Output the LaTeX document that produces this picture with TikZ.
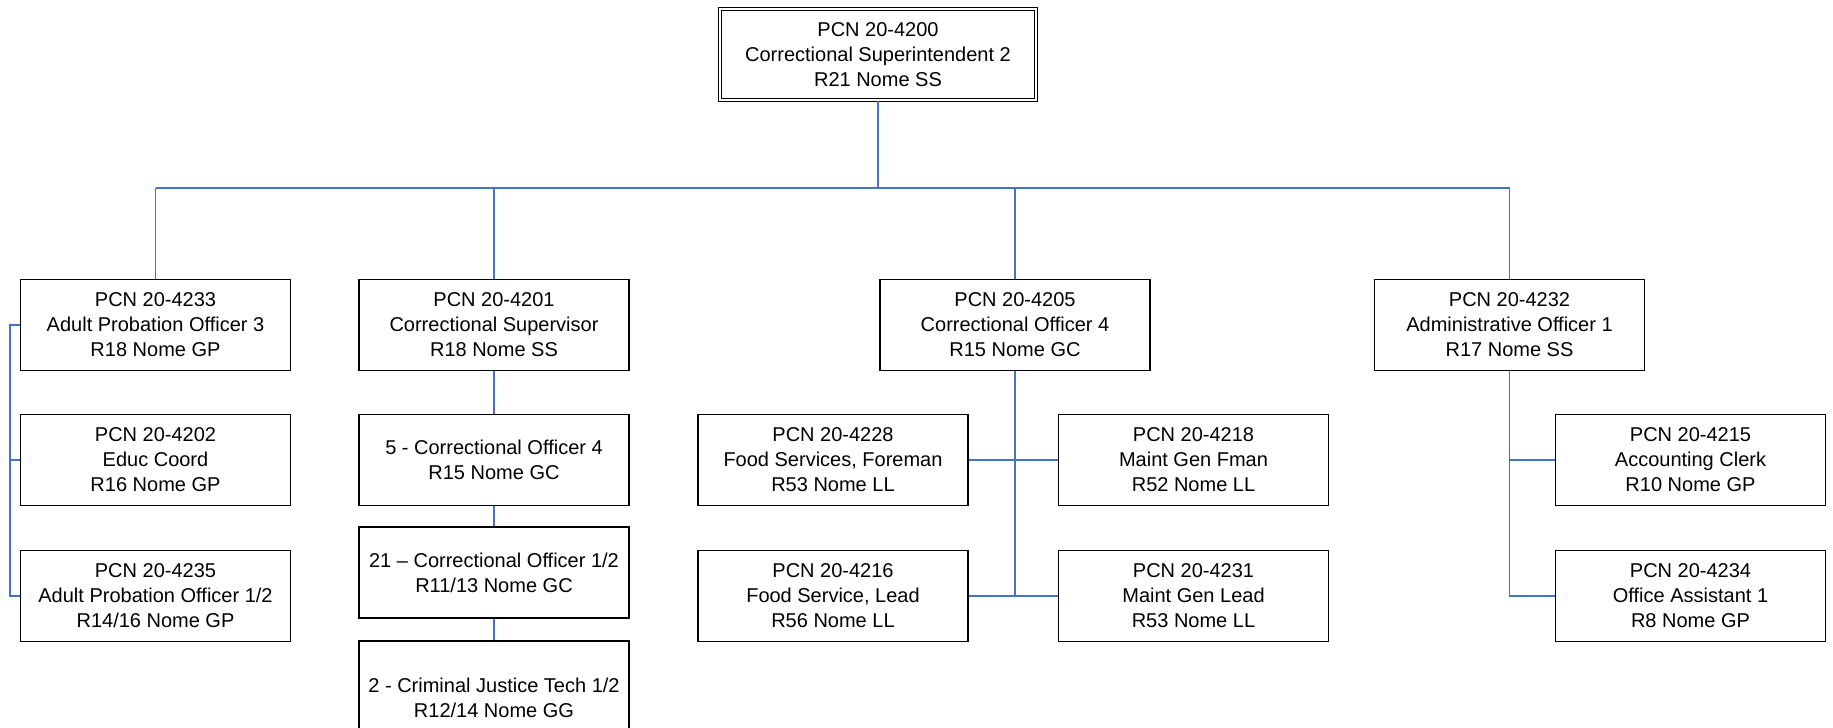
\documentclass[tikz,border=0pt]{standalone}
\usepackage{fontspec}
\setmainfont{Liberation Sans}
\usetikzlibrary{positioning}
\definecolor{linkblue}{RGB}{68,114,196}
\begin{document}
\begin{tikzpicture}[
    x=0.5pt, y=-0.5pt,
    post/.style={draw, line width=0.75pt, fill=white, align=center,
      minimum width=135pt, minimum height=45.5pt, inner sep=1pt,
      font=\fontsize{10}{12.5}\selectfont},
    headpost/.style={post, minimum width=158pt, double, double distance=1.2pt,
      line width=0.55pt},
    link/.style={draw=linkblue, line width=0.75pt},
  ]
  \useasboundingbox (0,0) rectangle (1833,728);
  % top
  \node[headpost] (sup) at (878,54.5) {PCN 20-4200\\Correctional Superintendent 2\\R21 Nome SS};
  % first row
  \node[post] (apo3) at (155.5,325) {PCN 20-4233\\Adult Probation Officer 3\\R18 Nome GP};
  \node[post] (csup) at (494,325) {PCN 20-4201\\Correctional Supervisor\\R18 Nome SS};
  \node[post] (co4) at (1015,325) {PCN 20-4205\\Correctional Officer 4\\R15 Nome GC};
  \node[post] (ao1) at (1509.5,325) {PCN 20-4232\\Administrative Officer 1\\R17 Nome SS};
  % probation column
  \node[post] (educ) at (155.5,460) {PCN 20-4202\\Educ Coord\\R16 Nome GP};
  \node[post] (apo12) at (155.5,596) {PCN 20-4235\\Adult Probation Officer 1/2\\R14/16 Nome GP};
  % supervisor column
  \node[post] (fivecos) at (494,460) {5 - Correctional Officer 4\\R15 Nome GC};
  \node[post] (twentyonecos) at (494,572.5) {21 -- Correctional Officer 1/2\\R11/13 Nome GC};
  \node[post, minimum height=57pt] (cjt) at (494,698) {2 - Criminal Justice Tech 1/2\\R12/14 Nome GG};
  % officer 4 column
  \node[post] (foodfm) at (833,460) {PCN 20-4228\\Food Services, Foreman\\R53 Nome LL};
  \node[post] (maintfm) at (1193.5,460) {PCN 20-4218\\Maint Gen Fman\\R52 Nome LL};
  \node[post] (foodld) at (833,596) {PCN 20-4216\\Food Service, Lead\\R56 Nome LL};
  \node[post] (maintld) at (1193.5,596) {PCN 20-4231\\Maint Gen Lead\\R53 Nome LL};
  % admin column
  \node[post] (clerk) at (1690.5,460) {PCN 20-4215\\Accounting Clerk\\R10 Nome GP};
  \node[post] (oa1) at (1690.5,596) {PCN 20-4234\\Office Assistant 1\\R8 Nome GP};

  \coordinate (bus) at (0,188);
  \coordinate (rail) at (10,0);
  % links
  \draw[link] (sup.south) -- (sup.south |- bus);
  \draw[link] (apo3.north |- bus) -- (ao1.north |- bus);
  \draw[link] (apo3.north) -- (apo3.north |- bus);
  \draw[link] (csup.north) -- (csup.north |- bus);
  \draw[link] (co4.north) -- (co4.north |- bus);
  \draw[link] (ao1.north) -- (ao1.north |- bus);
  \draw[link] (apo3.west) -- (apo3.west -| rail) -- (apo12.west -| rail) -- (apo12.west);
  \draw[link] (educ.west) -- (educ.west -| rail);
  \draw[link] (csup.south) -- (fivecos.north);
  \draw[link] (fivecos.south) -- (twentyonecos.north);
  \draw[link] (twentyonecos.south) -- (cjt.north);
  \draw[link] (co4.south) -- (co4.south |- foodld.east);
  \draw[link] (foodfm.east) -- (maintfm.west);
  \draw[link] (foodld.east) -- (maintld.west);
  \draw[link] (ao1.south) |- (oa1.west);
  \draw[link] (clerk.west) -- (clerk.west -| ao1.south);
\end{tikzpicture}
\end{document}
